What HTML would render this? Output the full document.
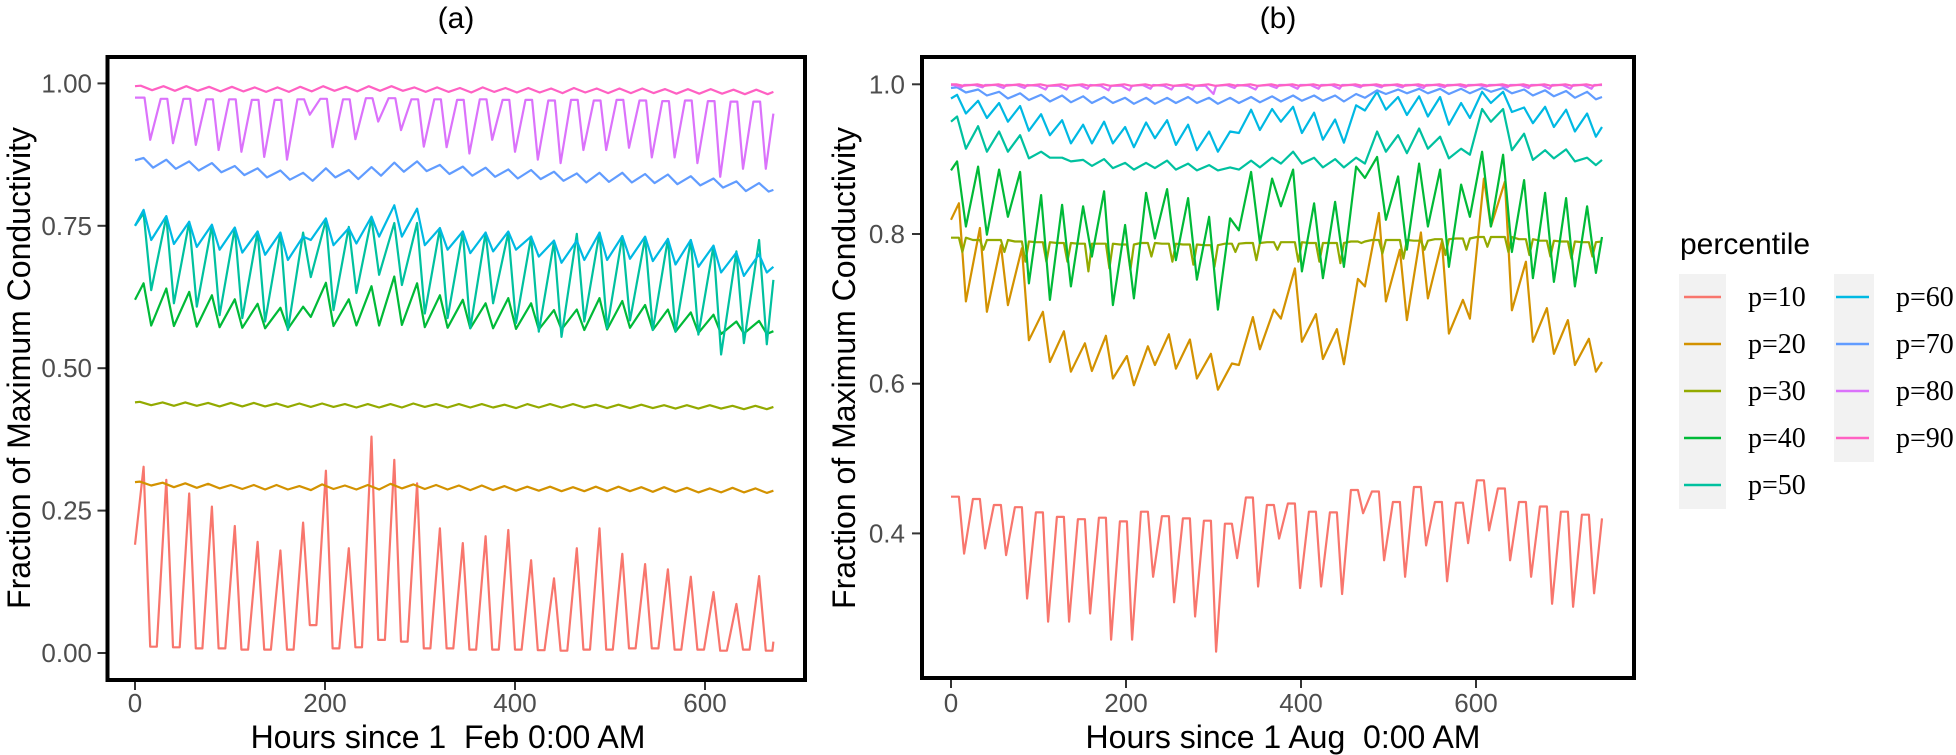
<!DOCTYPE html>
<html><head><meta charset="utf-8"><style>
html,body{margin:0;padding:0;background:#fff;}
svg{display:block;}
text{font-family:"Liberation Sans",sans-serif;}
text.serif{font-family:"Liberation Serif",serif;}
</style></head><body>
<svg id="chart" width="1956" height="755" viewBox="0 0 1956 755" xmlns="http://www.w3.org/2000/svg">
<defs>
<clipPath id="clipA"><rect x="109.5" y="59" width="693.5" height="619"/></clipPath>
<clipPath id="clipB"><rect x="924" y="59" width="708" height="617"/></clipPath>
</defs>
<g id="panelA"></g>
<g id="panelB"></g>
<text x="456" y="28" font-size="30" text-anchor="middle">(a)</text>
<text x="1278" y="28" font-size="30" text-anchor="middle">(b)</text>
<text x="448" y="748" font-size="32" text-anchor="middle" xml:space="preserve">Hours since 1  Feb 0:00 AM</text>
<text x="1283" y="748" font-size="32" text-anchor="middle" xml:space="preserve">Hours since 1 Aug  0:00 AM</text>
<text transform="translate(30,368) rotate(-90)" font-size="32" text-anchor="middle">Fraction of Maximum Conductivity</text>
<text transform="translate(855,368) rotate(-90)" font-size="32" text-anchor="middle">Fraction of Maximum Conductivity</text>
<g id="legend">
<text x="1680" y="254" font-size="30">percentile</text>
<rect x="1679" y="274" width="47" height="235" fill="#F2F2F2"/>
<rect x="1834" y="274" width="40" height="188" fill="#F2F2F2"/>
</g>
</svg>
<script>
// ---------- Panel A data (28 days, hourly index) ----------
const A_hours = 672;
const A_p10_peak = [0.327,0.304,0.280,0.257,0.223,0.195,0.180,0.229,0.320,0.184,0.380,0.339,0.298,0.219,0.193,0.205,0.216,0.163,0.131,0.184,0.219,0.174,0.156,0.147,0.134,0.107,0.086,0.135];
const A_p10_trough = [0.011,0.010,0.008,0.008,0.006,0.006,0.006,0.049,0.008,0.010,0.023,0.020,0.008,0.008,0.006,0.006,0.006,0.005,0.004,0.006,0.006,0.008,0.008,0.006,0.006,0.004,0.006,0.004];
const A_p20_peak = [0.301,0.299,0.298,0.297,0.295,0.295,0.295,0.293,0.296,0.294,0.295,0.297,0.296,0.295,0.294,0.294,0.293,0.292,0.292,0.291,0.292,0.292,0.291,0.291,0.290,0.289,0.290,0.289];
const A_p20_trough = [0.294,0.291,0.290,0.289,0.288,0.287,0.287,0.286,0.288,0.287,0.287,0.289,0.288,0.287,0.286,0.286,0.285,0.285,0.284,0.284,0.284,0.284,0.283,0.283,0.282,0.282,0.282,0.281];
const A_p30_peak = [0.441,0.440,0.440,0.439,0.439,0.439,0.438,0.438,0.438,0.437,0.437,0.437,0.438,0.437,0.437,0.437,0.436,0.437,0.437,0.437,0.436,0.436,0.436,0.435,0.435,0.435,0.434,0.434];
const A_p30_trough = [0.435,0.434,0.434,0.433,0.433,0.433,0.432,0.432,0.432,0.431,0.431,0.431,0.432,0.431,0.431,0.431,0.430,0.431,0.431,0.431,0.430,0.430,0.430,0.429,0.429,0.429,0.428,0.428];
const A_p40_peak = [0.649,0.640,0.634,0.628,0.621,0.613,0.606,0.608,0.650,0.621,0.644,0.661,0.649,0.628,0.620,0.614,0.623,0.614,0.602,0.603,0.623,0.618,0.611,0.603,0.598,0.594,0.582,0.583];
const A_p40_trough = [0.575,0.574,0.573,0.572,0.571,0.570,0.569,0.590,0.574,0.575,0.575,0.576,0.572,0.571,0.570,0.570,0.569,0.568,0.568,0.567,0.568,0.571,0.567,0.564,0.562,0.560,0.561,0.560];
const A_p50_peak = [0.772,0.766,0.757,0.751,0.746,0.740,0.738,0.738,0.760,0.748,0.763,0.755,0.755,0.746,0.740,0.738,0.738,0.731,0.722,0.736,0.738,0.732,0.729,0.727,0.725,0.715,0.705,0.725];
const A_p50_trough = [0.637,0.614,0.608,0.593,0.588,0.582,0.567,0.660,0.602,0.632,0.664,0.646,0.596,0.588,0.570,0.614,0.579,0.564,0.555,0.582,0.570,0.584,0.567,0.564,0.559,0.524,0.544,0.542];
const A_p60_peak = [0.778,0.767,0.757,0.752,0.747,0.740,0.738,0.731,0.763,0.746,0.766,0.786,0.780,0.746,0.740,0.738,0.740,0.731,0.724,0.724,0.738,0.732,0.731,0.727,0.725,0.715,0.703,0.700];
const A_p60_trough = [0.725,0.718,0.713,0.708,0.703,0.699,0.690,0.725,0.716,0.719,0.731,0.731,0.716,0.708,0.702,0.705,0.708,0.696,0.685,0.690,0.690,0.692,0.688,0.682,0.678,0.668,0.662,0.668];
const A_p70_peak = [0.869,0.866,0.863,0.860,0.855,0.851,0.847,0.843,0.851,0.848,0.853,0.861,0.863,0.857,0.854,0.852,0.849,0.848,0.845,0.842,0.843,0.843,0.841,0.840,0.837,0.833,0.828,0.825];
const A_p70_trough = [0.852,0.850,0.847,0.844,0.839,0.835,0.831,0.829,0.835,0.832,0.838,0.845,0.846,0.841,0.838,0.836,0.833,0.832,0.829,0.826,0.827,0.826,0.825,0.823,0.821,0.817,0.811,0.810];
const A_p80_peak = [0.975,0.973,0.973,0.972,0.972,0.971,0.971,0.972,0.973,0.972,0.974,0.974,0.972,0.972,0.971,0.972,0.971,0.971,0.970,0.971,0.970,0.971,0.970,0.969,0.970,0.969,0.968,0.968];
const A_p80_trough = [0.901,0.895,0.892,0.883,0.880,0.871,0.866,0.945,0.888,0.902,0.933,0.918,0.889,0.888,0.877,0.901,0.880,0.866,0.860,0.883,0.883,0.887,0.870,0.870,0.860,0.836,0.850,0.850];
const A_p90_peak = [0.996,0.995,0.995,0.994,0.994,0.993,0.993,0.994,0.995,0.994,0.995,0.995,0.993,0.993,0.992,0.993,0.992,0.992,0.991,0.992,0.991,0.991,0.991,0.990,0.990,0.990,0.989,0.989];
const A_p90_trough = [0.988,0.987,0.987,0.986,0.986,0.985,0.985,0.986,0.987,0.986,0.987,0.987,0.985,0.985,0.984,0.985,0.984,0.984,0.983,0.984,0.983,0.983,0.983,0.982,0.982,0.982,0.981,0.981];
const A_start = [0.19,0.30,0.440,0.62,0.75,0.75,0.865,0.975,0.995];
const A_end = [0.02,0.285,0.432,0.565,0.655,0.678,0.813,0.947,0.985];

// ---------- Panel B data (31 days) ----------
const B_hours = 744;
const B_p10_peak = [0.449,0.446,0.438,0.435,0.428,0.422,0.419,0.421,0.416,0.429,0.423,0.420,0.417,0.413,0.448,0.438,0.440,0.429,0.428,0.458,0.456,0.442,0.462,0.442,0.441,0.471,0.460,0.442,0.436,0.429,0.425];
const B_p10_trough = [0.373,0.380,0.371,0.313,0.282,0.282,0.293,0.258,0.258,0.342,0.308,0.289,0.242,0.367,0.329,0.393,0.327,0.329,0.319,0.427,0.364,0.342,0.384,0.336,0.387,0.404,0.364,0.342,0.306,0.302,0.320];
const B_p20_peak = [0.841,0.808,0.785,0.781,0.696,0.670,0.654,0.664,0.637,0.650,0.666,0.659,0.640,0.627,0.689,0.699,0.754,0.693,0.673,0.740,0.828,0.779,0.802,0.790,0.712,0.874,0.870,0.763,0.701,0.685,0.660];
const B_p20_trough = [0.710,0.696,0.705,0.658,0.629,0.616,0.617,0.607,0.598,0.625,0.620,0.607,0.592,0.625,0.646,0.687,0.656,0.633,0.626,0.730,0.710,0.685,0.714,0.667,0.687,0.810,0.698,0.656,0.640,0.625,0.616];
const B_p30_peak = [0.795,0.792,0.792,0.790,0.789,0.788,0.787,0.787,0.786,0.788,0.787,0.786,0.785,0.787,0.788,0.789,0.789,0.788,0.788,0.790,0.792,0.792,0.791,0.793,0.794,0.796,0.796,0.793,0.791,0.790,0.789];
const B_p30_trough = [0.776,0.779,0.776,0.763,0.763,0.763,0.750,0.754,0.752,0.770,0.763,0.759,0.756,0.776,0.765,0.779,0.763,0.763,0.761,0.788,0.774,0.767,0.779,0.772,0.779,0.783,0.776,0.772,0.770,0.767,0.770];
const B_p40_peak = [0.897,0.890,0.886,0.883,0.852,0.839,0.837,0.857,0.812,0.855,0.860,0.848,0.823,0.821,0.883,0.874,0.886,0.841,0.843,0.890,0.903,0.877,0.894,0.886,0.866,0.910,0.906,0.872,0.855,0.848,0.837];
const B_p40_trough = [0.810,0.799,0.823,0.734,0.712,0.730,0.770,0.705,0.714,0.794,0.765,0.739,0.699,0.805,0.788,0.837,0.750,0.741,0.756,0.875,0.819,0.779,0.810,0.756,0.823,0.810,0.776,0.741,0.736,0.730,0.748];
const B_p50_peak = [0.957,0.944,0.937,0.932,0.910,0.902,0.899,0.900,0.895,0.895,0.898,0.894,0.892,0.889,0.898,0.902,0.910,0.902,0.900,0.902,0.937,0.932,0.941,0.930,0.914,0.967,0.967,0.934,0.912,0.913,0.902];
const B_p50_trough = [0.914,0.910,0.910,0.901,0.902,0.897,0.891,0.888,0.886,0.888,0.886,0.885,0.885,0.886,0.889,0.894,0.894,0.889,0.889,0.894,0.910,0.908,0.914,0.901,0.906,0.950,0.912,0.899,0.901,0.897,0.892];
const B_p60_peak = [0.986,0.978,0.975,0.971,0.960,0.952,0.946,0.950,0.943,0.949,0.952,0.946,0.937,0.937,0.966,0.967,0.970,0.962,0.953,0.972,0.990,0.983,0.984,0.983,0.975,0.990,0.990,0.969,0.970,0.966,0.961];
const B_p60_trough = [0.961,0.955,0.950,0.938,0.932,0.921,0.921,0.921,0.916,0.928,0.919,0.912,0.910,0.935,0.939,0.950,0.935,0.926,0.922,0.965,0.966,0.959,0.957,0.946,0.955,0.975,0.963,0.948,0.943,0.937,0.930];
const B_p70_peak = [0.996,0.993,0.990,0.988,0.986,0.985,0.984,0.983,0.982,0.982,0.982,0.983,0.982,0.982,0.983,0.984,0.985,0.985,0.985,0.987,0.992,0.993,0.994,0.994,0.994,0.995,0.995,0.993,0.992,0.991,0.990];
const B_p70_trough = [0.989,0.985,0.981,0.979,0.977,0.976,0.975,0.975,0.974,0.974,0.975,0.975,0.974,0.975,0.976,0.977,0.978,0.978,0.977,0.982,0.987,0.988,0.988,0.987,0.988,0.990,0.988,0.985,0.984,0.982,0.980];
const B_p80_peak = [0.999,0.999,0.999,0.999,0.998,0.998,0.999,0.998,0.998,0.999,0.998,0.998,0.998,0.999,0.998,0.999,0.999,0.999,0.999,0.999,0.999,0.999,0.999,0.999,0.999,0.999,0.999,0.999,0.999,0.999,0.999];
const B_p80_trough = [0.996,0.996,0.995,0.995,0.993,0.993,0.994,0.992,0.992,0.994,0.993,0.993,0.987,0.995,0.993,0.995,0.994,0.994,0.994,0.996,0.996,0.996,0.995,0.996,0.996,0.997,0.996,0.995,0.994,0.994,0.994];
const B_p90_peak = [1.000,1.000,1.000,1.000,1.000,1.000,1.000,1.000,1.000,1.000,1.000,1.000,1.000,1.000,1.000,1.000,1.000,1.000,1.000,1.000,1.000,1.000,1.000,1.000,1.000,1.000,1.000,1.000,1.000,1.000,1.000];
const B_p90_trough = [0.998,0.998,0.998,0.998,0.998,0.998,0.998,0.998,0.998,0.998,0.998,0.998,0.998,0.998,0.998,0.998,0.998,0.998,0.998,0.998,0.998,0.998,0.998,0.998,0.998,0.998,0.998,0.998,0.998,0.998,0.998];
const B_start = [0.449,0.819,0.795,0.885,0.950,0.981,0.995,0.999,1.000];
const B_end = [0.420,0.629,0.790,0.796,0.899,0.943,0.983,0.999,1.000];

const seriesNames = ["p=10","p=20","p=30","p=40","p=50","p=60","p=70","p=80","p=90"];
const seriesColors = ["#F8766D","#D39200","#93AA00","#00BA38","#00C19F","#00B9E3","#619CFF","#DB72FB","#FF61C3"];
const A_xTicks = [0,200,400,600];
const A_yTicks = [0,0.25,0.5,0.75,1.0];
const A_yLabels = ["0.00","0.25","0.50","0.75","1.00"];
const B_xTicks = [0,200,400,600];
const B_yTicks = [0.4,0.6,0.8,1.0];
const B_yLabels = ["0.4","0.6","0.8","1.0"];

const NS = "http://www.w3.org/2000/svg";
function mk(tag, attrs, parent){ const e=document.createElementNS(NS,tag); for(const k in attrs) e.setAttribute(k,attrs[k]); parent.appendChild(e); return e; }

const xA = h => 135 + h*0.95;
const yA = v => 653 - v*569.6;
const xB = h => 951 + h*0.875;
const yB = v => 84.3 + (1-v)*748.5;

function buildPoints(H, peak, trough, pattern, start, end){
  const pts=[[0,start]];
  for(let k=0;k<peak.length;k++){
    for(const [off,which] of pattern){
      const h=24*k+off;
      if(h>0 && h<H) pts.push([h, which===0?peak[k]:trough[k]]);
    }
  }
  pts.push([H,end]);
  return pts;
}

function drawPanel(g, clipId, H, data, patterns, starts, ends, xf, yf, box, xTicks, yTicks, yLabels, yLabelRight, prefix){
  const lines = mk('g',{'clip-path':'url(#'+clipId+')'},g);
  
  
  data.forEach((pair,i)=>{
    const pts = buildPoints(H, pair[0], pair[1], patterns[i], starts[i], ends[i]);
    const d = pts.map((p,j)=>(j?'L':'M')+xf(p[0]).toFixed(1)+' '+yf(p[1]).toFixed(1)).join(' ');
    const path = mk('path',{d:d,fill:'none',stroke:seriesColors[i],'stroke-width':2.2,'stroke-linejoin':'round'},lines);
    
    
  });
  const border = mk('rect',{x:box[0],y:box[1],width:box[2]-box[0],height:box[3]-box[1],fill:'none',stroke:'#000','stroke-width':4},g);
  
  
  xTicks.forEach(t=>{
    const x=xf(t);
    const tk = mk('line',{x1:x,x2:x,y1:box[3]+2,y2:box[3]+10,stroke:'#333','stroke-width':2},g);
    
    
    const tl = mk('text',{x:x,y:712,'font-size':26,'text-anchor':'middle',fill:'#4D4D4D'},g);
    tl.textContent = String(t);
    
    
  });
  yTicks.forEach((t,i)=>{
    const y=yf(t);
    const tk = mk('line',{x1:box[0]-10,x2:box[0]-2,y1:y,y2:y,stroke:'#333','stroke-width':2},g);
    
    
    const tl = mk('text',{x:yLabelRight,y:y+9,'font-size':26,'text-anchor':'end',fill:'#4D4D4D'},g);
    tl.textContent = yLabels[i];
    
    
  });
}

const A_data = [[A_p10_peak,A_p10_trough],[A_p20_peak,A_p20_trough],[A_p30_peak,A_p30_trough],[A_p40_peak,A_p40_trough],[A_p50_peak,A_p50_trough],[A_p60_peak,A_p60_trough],[A_p70_peak,A_p70_trough],[A_p80_peak,A_p80_trough],[A_p90_peak,A_p90_trough]];
const A_patterns = [
  [[9,0],[16,1],[23,1]],
  [[5,0],[17,1]],
  [[5,0],[17,1]],
  [[9,0],[17,1]],
  [[9,0],[17,1]],
  [[9,0],[17,1]],
  [[9,0],[19,1]],
  [[3,0],[10,0],[16,1]],
  [[6,0],[18,1]]
];
const B_data = [[B_p10_peak,B_p10_trough],[B_p20_peak,B_p20_trough],[B_p30_peak,B_p30_trough],[B_p40_peak,B_p40_trough],[B_p50_peak,B_p50_trough],[B_p60_peak,B_p60_trough],[B_p70_peak,B_p70_trough],[B_p80_peak,B_p80_trough],[B_p90_peak,B_p90_trough]];
const B_patterns = [
  [[1,0],[9,0],[15,1]],
  [[9,0],[17,1]],
  [[1,0],[9,0],[13,1],[17,0]],
  [[7,0],[17,1]],
  [[7,0],[17,1]],
  [[7,0],[17,1]],
  [[7,0],[17,1]],
  [[3,0],[12,1],[15,0]],
  [[6,0],[14,1]]
];

drawPanel(document.getElementById('panelA'),'clipA',A_hours,A_data,A_patterns,A_start,A_end,xA,yA,[107.5,57,805,680],A_xTicks,A_yTicks,A_yLabels,92,'panel-a');
drawPanel(document.getElementById('panelB'),'clipB',B_hours,B_data,B_patterns,B_start,B_end,xB,yB,[922,57,1634,678],B_xTicks,B_yTicks,B_yLabels,905,'panel-b');

const legend = document.getElementById('legend');
seriesNames.forEach((name,i)=>{
  const col = i<5?0:1;
  const row = i<5?i:i-5;
  const cy = 297 + row*47;
  const x1 = col===0?1684:1836;
  const x2 = col===0?1721:1869;
  const g = mk('g',{},legend);
  
  
  mk('line',{x1:x1,x2:x2,y1:cy,y2:cy,stroke:seriesColors[i],'stroke-width':2.5},g);
  const t = mk('text',{x:col===0?1748:1896,y:cy+9,'font-size':28,'class':'serif'},g);
  t.textContent = name;
});
</script>
</body></html>
